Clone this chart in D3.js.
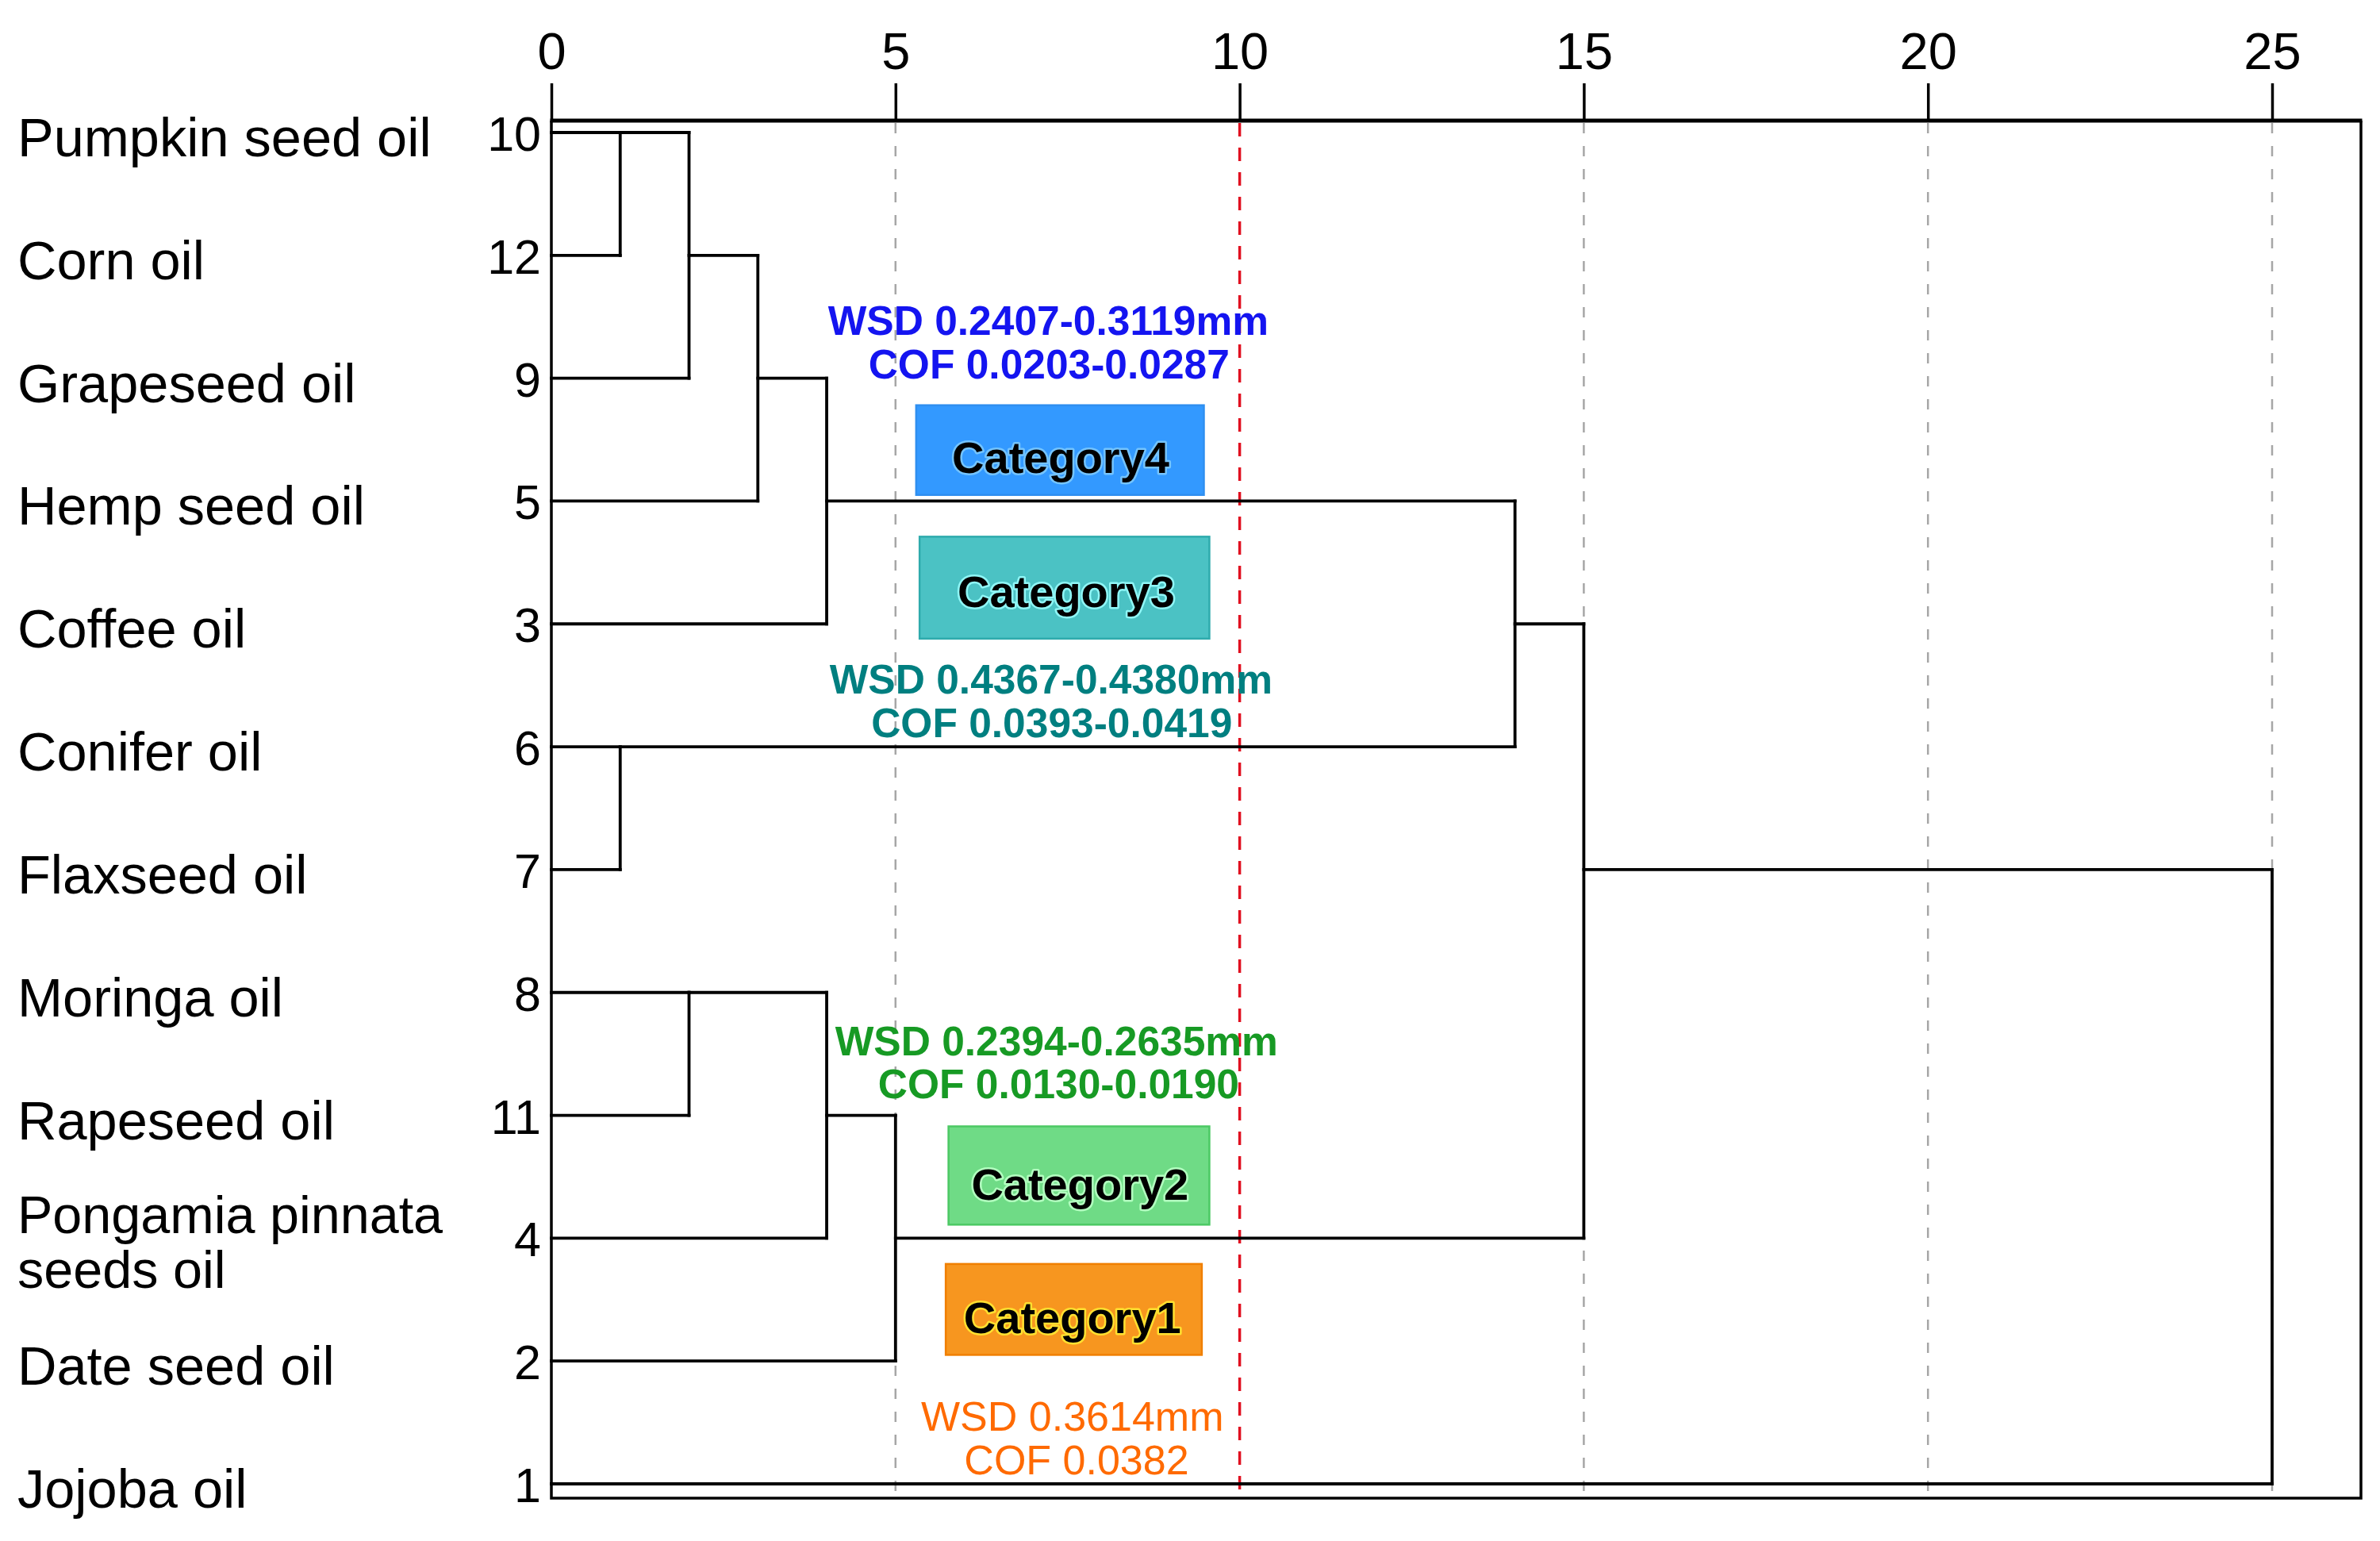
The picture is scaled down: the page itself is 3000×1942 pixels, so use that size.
<!DOCTYPE html>
<html>
<head>
<meta charset="utf-8">
<script src="https://cdn.jsdelivr.net/npm/d3@7"></script>
<style>
  html, body { margin: 0; padding: 0; background: #fff; }
  svg { display: block; font-family: "Liberation Sans", Arial, sans-serif; }
</style>
</head>
<body>
<svg id="chart" width="3000" height="1942"></svg>
<script>
// ---------------- data ----------------
const oilNames = ["Pumpkin seed oil", "Corn oil", "Grapeseed oil", "Hemp seed oil", "Coffee oil",
  "Conifer oil", "Flaxseed oil", "Moringa oil", "Rapeseed oil", "Pongamia pinnata\nseeds oil",
  "Date seed oil", "Jojoba oil"];
const caseNumbers = [10, 12, 9, 5, 3, 6, 7, 8, 11, 4, 2, 1];
// agglomeration schedule: ids 0..11 are leaves (in row order), 12+ are clusters in merge order
const mergeLeft = [0, 5, 12, 7, 14, 16, 15, 18, 17, 20, 21];
const mergeRight = [1, 6, 2, 8, 3, 4, 9, 10, 13, 19, 11];
const mergeDistance = [1, 1, 2, 2, 3, 4, 4, 5, 14, 15, 25];
const axisTicks = [0, 5, 10, 15, 20, 25];
const cutDistance = 10;
const categoryNames = ["Category4", "Category3", "Category2", "Category1"];
const wsdLabels = ["WSD 0.2407-0.3119mm", "WSD 0.4367-0.4380mm", "WSD 0.2394-0.2635mm", "WSD 0.3614mm"];
const cofLabels = ["COF 0.0203-0.0287", "COF 0.0393-0.0419", "COF 0.0130-0.0190", "COF 0.0382"];

// ---------------- layout / style ----------------
const annot = [
  { box: [5.30, 9.48, 2.22, 2.95], cat: [7.40, 2.77], wsd: [7.22, 1.65], cof: [7.23, 2.00],
    fill: "#3399ff", border: "#2f8ff0", halo: "#74c4ff", text: "#1414f0", bold: true },
  { box: [5.35, 9.56, 3.29, 4.12], cat: [7.48, 3.86], wsd: [7.26, 4.565], cof: [7.27, 4.92],
    fill: "#4bc2c4", border: "#2fabad", halo: "#8ff6f6", text: "#007f80", bold: true },
  { box: [5.77, 9.56, 8.09, 8.89], cat: [7.68, 8.69], wsd: [7.34, 7.51], cof: [7.37, 7.86],
    fill: "#6fdb86", border: "#4cc964", halo: "#b2ffbf", text: "#179a24", bold: true },
  { box: [5.73, 9.45, 9.21, 9.95], cat: [7.57, 9.77], wsd: [7.57, 10.57], cof: [7.63, 10.92],
    fill: "#f7961f", border: "#f07f00", halo: "#ffe030", text: "#ff6a00", bold: false }
];

const frame = { left: 695, right: 2976, top: 152, bottom: 1888 };
const x = d3.scaleLinear().domain([0, 25]).range([695, 2864]);
const y = d3.scaleLinear().domain([0, 11]).range([167, 1870]);

const svg = d3.select("#chart");
svg.append("rect").attr("width", 3000).attr("height", 1942).attr("fill", "#fff");

// ---------------- gridlines ----------------
const gridG = svg.append("g");
gridG.selectAll("line.grid")
  .data(axisTicks.filter(t => t > 0))
  .join("line")
  .attr("x1", d => x(d)).attr("x2", d => x(d))
  .attr("y1", frame.top + 3).attr("y2", frame.bottom)
  .attr("stroke", d => d === cutDistance ? "#e01020" : "#a6a6a6")
  .attr("stroke-width", d => d === cutDistance ? 3.5 : 2.5)
  .attr("stroke-dasharray", d => d === cutDistance ? "17,14" : "13,16");

// ---------------- annotations ----------------
const annG = svg.append("g");
annot.forEach((a, i) => {
  annG.append("rect")
    .attr("x", x(a.box[0])).attr("width", x(a.box[1]) - x(a.box[0]))
    .attr("y", y(a.box[2])).attr("height", y(a.box[3]) - y(a.box[2]))
    .attr("fill", a.fill).attr("stroke", a.border).attr("stroke-width", 2.5);
  annG.append("text")
    .attr("x", x(a.cat[0])).attr("y", y(a.cat[1]))
    .attr("text-anchor", "middle")
    .attr("font-size", 56).attr("font-weight", "bold")
    .attr("fill", "#000")
    .attr("stroke", a.halo).attr("stroke-width", 5).attr("paint-order", "stroke")
    .attr("stroke-linejoin", "round")
    .text(categoryNames[i]);
  [[wsdLabels[i], a.wsd], [cofLabels[i], a.cof]].forEach(([t, p]) => {
    annG.append("text")
      .attr("x", x(p[0])).attr("y", y(p[1]))
      .attr("text-anchor", "middle")
      .attr("font-size", a.bold ? 51.5 : 52)
      .attr("font-weight", a.bold ? "bold" : "normal")
      .attr("fill", a.text)
      .text(t);
  });
});

// ---------------- dendrogram ----------------
const nLeaves = oilNames.length;
const pos = d3.range(nLeaves);       // row position of each node
const height = d3.range(nLeaves).map(() => 0);
const parentHeight = [];
mergeLeft.forEach((l, k) => {
  const id = nLeaves + k;
  const r = mergeRight[k];
  pos[id] = Math.floor((pos[l] + pos[r]) / 2);
  height[id] = mergeDistance[k];
  parentHeight[l] = mergeDistance[k];
  parentHeight[r] = mergeDistance[k];
});

const segs = [];
pos.forEach((p, id) => {
  if (parentHeight[id] === undefined) return;
  segs.push([height[id], p, parentHeight[id], p]);
});
mergeLeft.forEach((l, k) => {
  segs.push([mergeDistance[k], pos[l], mergeDistance[k], pos[mergeRight[k]]]);
});

const dendG = svg.append("g");
dendG.selectAll("line.seg")
  .data(segs)
  .join("line")
  .attr("x1", d => x(d[0])).attr("y1", d => y(d[1]))
  .attr("x2", d => x(d[2])).attr("y2", d => y(d[3]))
  .attr("stroke", "#000").attr("stroke-width", 3.8).attr("stroke-linecap", "square");

// ---------------- frame & axis ----------------
svg.append("path")
  .attr("d", `M${frame.left},${frame.top}V${frame.bottom}H${frame.right}V${frame.top}`)
  .attr("fill", "none").attr("stroke", "#000").attr("stroke-width", 3.5);
svg.append("line")
  .attr("x1", frame.left - 1.5).attr("x2", frame.right + 1.5)
  .attr("y1", frame.top).attr("y2", frame.top)
  .attr("stroke", "#000").attr("stroke-width", 5);

const axis = d3.axisTop(x).tickValues(axisTicks).tickSize(47).tickSizeOuter(0).tickPadding(18)
  .tickFormat(d3.format("d"));
const axG = svg.append("g").attr("transform", `translate(0,${frame.top})`).call(axis);
axG.select(".domain").remove();
axG.selectAll(".tick line").attr("stroke", "#000").attr("stroke-width", 3.5);
axG.selectAll(".tick text")
  .attr("font-family", "'Liberation Sans', Arial, sans-serif")
  .attr("font-size", 65).attr("fill", "#000");

// ---------------- row labels ----------------
const labG = svg.append("g");
oilNames.forEach((name, i) => {
  const lines = name.split("\n");
  const t = labG.append("text")
    .attr("x", 22)
    .attr("fill", "#000");
  if (lines.length === 1) {
    t.attr("font-size", 68.5).attr("y", y(i) + 30).text(name);
  } else {
    t.attr("font-size", 66.5);
    lines.forEach((ln, j) => {
      t.append("tspan").attr("x", 22).attr("y", y(i) - 6 + j * 69).text(ln);
    });
  }
  labG.append("text")
    .attr("x", 682).attr("y", y(i) + 23)
    .attr("text-anchor", "end")
    .attr("font-size", 61).attr("fill", "#000")
    .text(caseNumbers[i]);
});
</script>
</body>
</html>
